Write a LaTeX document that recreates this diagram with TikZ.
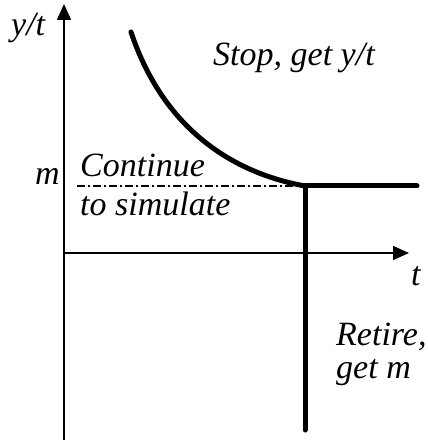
\documentclass[tikz,border=0pt]{standalone}
\usepackage{fontspec}
\setmainfont{Liberation Serif}[ItalicFont={Liberation Serif Italic}]
\usetikzlibrary{arrows.meta}
\begin{document}
\begin{tikzpicture}[x=1pt,y=-1pt,
  axis/.style={line width=1.8pt,-{Triangle[length=16pt,width=14pt]}},
  bold/.style={line width=5pt},
  lbl/.style={font=\fontsize{34}{36}\selectfont\itshape,anchor=base west,inner sep=0pt}]
\useasboundingbox (0,0) rectangle (427,443);
\coordinate (o) at (64,253);
\coordinate (ytop) at (64,4);
\coordinate (ybot) at (64,440);
\coordinate (xend) at (409,253);
\coordinate (c0) at (131,32);
\coordinate (k) at (305,186);
\coordinate (hr) at (417,186);
\coordinate (vb) at (305,430);
\coordinate (dl) at (77,186);
\draw[axis] (ybot) -- (ytop);
\draw[axis] (o) -- (xend);
\draw[line width=1.2pt,dash pattern=on 8pt off 3pt on 2pt off 3pt] (dl) -- (k);
\draw[bold,line cap=round] (c0) .. controls (162,125) and (228,172) .. (k);
\draw[bold,line cap=round] (k) -- (hr);
\draw[bold,line cap=round] (k) -- (vb);
\node[lbl] (yt) at (11,36) {y/t};
\node[lbl] (stop) at (213,66) {Stop, get y/t};
\node[lbl] (m) at (35,185) {m};
\node[lbl] (cont) at (80,177) {Continue};
\node[lbl] (sim) at (80,215) {to simulate};
\node[lbl] (t) at (411,285) {t};
\node[lbl] (ret) at (336,345) {Retire,};
\node[lbl] (getm) at (336,378) {get m};
\end{tikzpicture}
\end{document}
